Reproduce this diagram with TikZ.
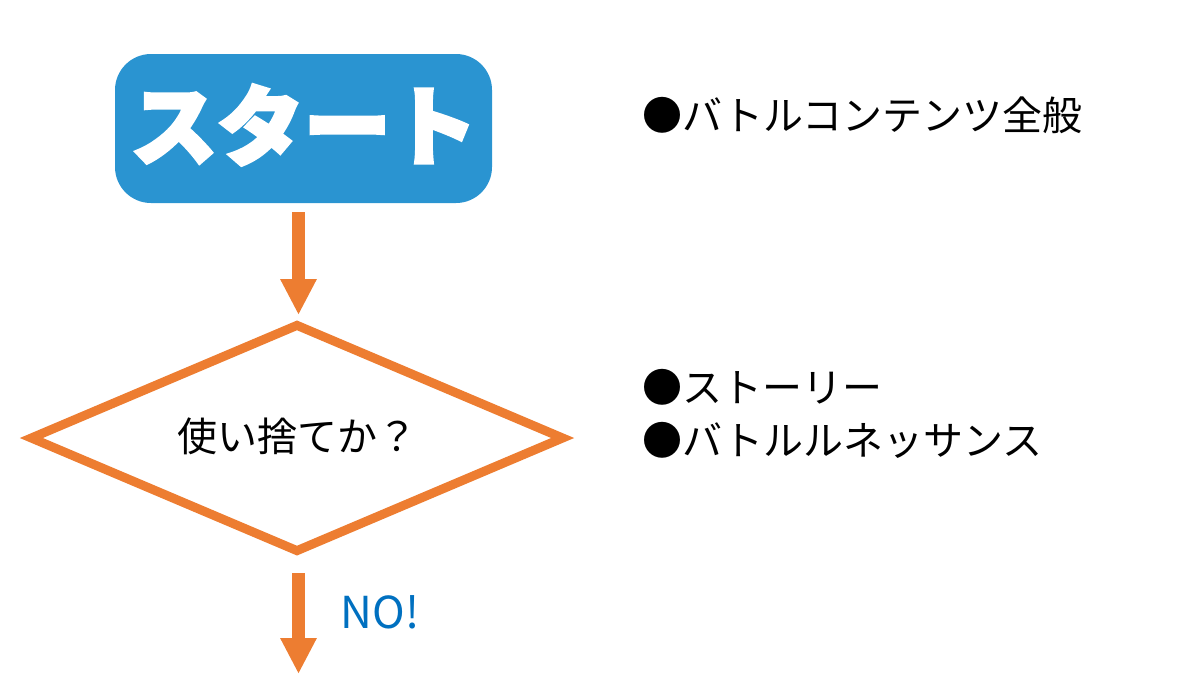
\documentclass[tikz,border=0pt]{standalone}
\usepackage{fontspec}
\setmainfont{Noto Sans CJK JP}
\newfontfamily\heavyfont[BoldFeatures={FakeBold=4}]{Noto Sans CJK JP}
\usetikzlibrary{arrows.meta,positioning,shapes.geometric}

\definecolor{startblue}{HTML}{2A94D1}
\definecolor{flowline}{HTML}{ED7D31}
\definecolor{noblue}{HTML}{0070C0}

\tikzset{
    startbox/.style={fill=startblue,rounded corners=36\unitpx,minimum width=377\unitpx,minimum height=149\unitpx,inner sep=0pt},
    decision/.style={diamond,draw=flowline,line width=9\unitpx,aspect=2.39,minimum width=535\unitpx,minimum height=229\unitpx,inner sep=0pt},
    flowarrow/.style={draw=flowline,line width=13\unitpx,-{Triangle[length=36\unitpx,width=34\unitpx]}},
    bodytext/.style={font=\fontsize{30}{36}\selectfont,inner sep=0pt},
}
\newcommand{\unitpx}{*0.75pt}

\begin{document}
\begin{tikzpicture}[x=0.75pt,y=-0.75pt]

                \useasboundingbox (0,0) rectangle (1200,676);

                \node[startbox] (start) at (303.5,128.5) {};

                \node[text=white,font=\fontsize{65}{72}\selectfont\heavyfont\bfseries,inner sep=0pt] (startlabel) at (304,125) {スタート};

                \node[decision] (check) at (297,438) {};

                \node[bodytext] (checklabel) at (297,436) {使い捨てか？};

                \coordinate (end) at (298.5,674);

                \node[text=noblue,font=\fontsize{33}{36}\selectfont,inner sep=0pt] (no) at (380,612) {NO!};

                

                \node[bodytext,anchor=west] (battle) at (642,115) {●バトルコンテンツ全般};

                \node[bodytext,anchor=west] (story) at (642,387) {●ストーリー};

                \node[bodytext,anchor=west] (renaissance) at (642,440) {●バトルルネッサンス};

                

                \path[flowarrow,shorten <=9\unitpx,shorten >=4\unitpx] (start.south -| end) -- (check.north -| end);

                \path[flowarrow,shorten <=16\unitpx] (check.south -| end) -- (end);

            \end{tikzpicture}
\end{document}
